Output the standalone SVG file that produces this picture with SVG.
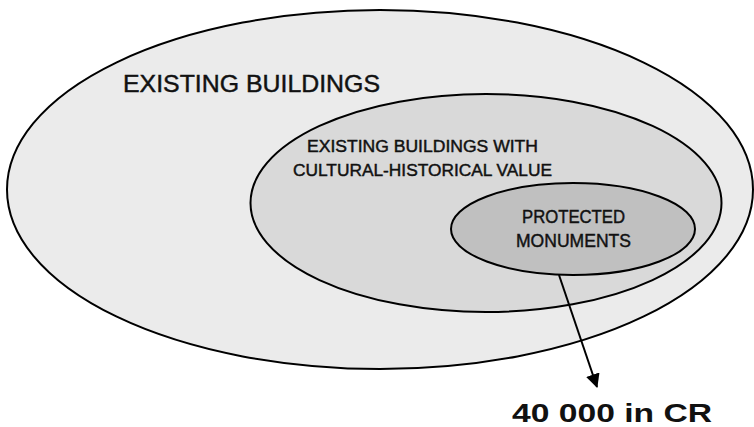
<svg xmlns="http://www.w3.org/2000/svg" width="754" height="427" viewBox="0 0 754 427">
  <style>
    .set { stroke: #000; stroke-width: 2; }
    .lbl { font-family: "Liberation Sans", Arial, sans-serif; fill: #111; stroke: #111; stroke-width: 0.45; text-anchor: middle; }
    .num { font-family: "Liberation Sans", Arial, sans-serif; fill: #111; font-weight: bold; text-anchor: middle; }
    .edge { stroke: #000; stroke-width: 2; fill: none; }
  </style>
  <defs>
    <marker id="arrow" viewBox="0 0 14 14" refX="13" refY="7" markerWidth="14" markerHeight="14" markerUnits="userSpaceOnUse" orient="auto">
      <path d="M0,0 L14,7 L0,14 Z" fill="#000"/>
    </marker>
  </defs>
  <rect width="754" height="427" fill="#fff"/>

  <g id="existing-buildings">
    <ellipse class="set" cx="380" cy="189.5" rx="373" ry="179.5" fill="#ebebeb"/>
    <text class="lbl" x="251.5" y="92" font-size="24.5" textLength="257" lengthAdjust="spacingAndGlyphs">EXISTING BUILDINGS</text>
  </g>

  <g id="cultural-historical">
    <ellipse class="set" cx="486" cy="203" rx="235.5" ry="109" fill="#d9d9d9"/>
    <text class="lbl" x="422.5" y="152" font-size="16.8" textLength="231" lengthAdjust="spacingAndGlyphs">EXISTING BUILDINGS WITH</text>
    <text class="lbl" x="422.5" y="176" font-size="16.8" textLength="259" lengthAdjust="spacingAndGlyphs">CULTURAL-HISTORICAL VALUE</text>
  </g>

  <g id="protected-monuments">
    <ellipse class="set" cx="573" cy="229" rx="122" ry="46" fill="#c0c0c0"/>
    <text class="lbl" x="573.5" y="223" font-size="18.8" textLength="103" lengthAdjust="spacingAndGlyphs">PROTECTED</text>
    <text class="lbl" x="573.5" y="247" font-size="18.8" textLength="115" lengthAdjust="spacingAndGlyphs">MONUMENTS</text>
  </g>

  <g id="connectors">
    <line class="edge" x1="559" y1="275" x2="597" y2="387" marker-end="url(#arrow)"/>
  </g>

  <g id="count">
    <text class="num" x="612" y="422" font-size="26" textLength="200" lengthAdjust="spacingAndGlyphs">40 000 in CR</text>
  </g>
</svg>
